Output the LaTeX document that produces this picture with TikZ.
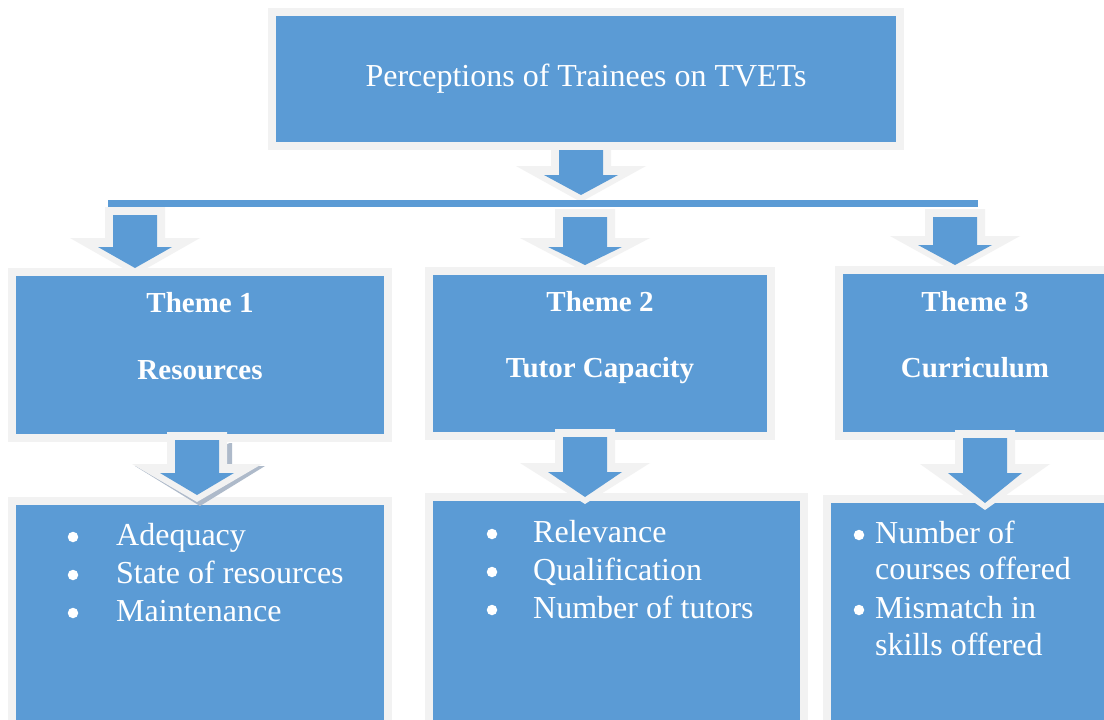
\documentclass[tikz,border=0pt]{standalone}
\usepackage{fontspec}
\setmainfont{Liberation Serif}
\definecolor{boxblue}{HTML}{5B9BD5}
\definecolor{boxgrey}{HTML}{F2F2F2}
\definecolor{shadowgrey}{HTML}{AEBACA}
\tikzset{
  panel/.style={draw=boxgrey, fill=boxblue, line width=8pt, rectangle, inner sep=0pt, text=white},
  titletext/.style={text=white, font=\fontsize{32}{38}\selectfont},
  themetext/.style={text=white, font=\bfseries\fontsize{29}{34}\selectfont, anchor=base, inner sep=0pt},
  itemtext/.style={text=white, font=\fontsize{32}{38}\selectfont, anchor=base west, inner sep=0pt},
  bul/.style={circle, fill=white, inner sep=0pt, minimum size=10.5pt},
}
% x, shaft top, head base, tip
\newcommand\tvarrow[4]{%
  \fill[boxgrey] (#1-30,#2-8) -- (#1+30,#2-8) -- (#1+30,#3-9) -- (#1+65,#3-9) -- (#1,#4+7) -- (#1-65,#3-9) -- (#1-30,#3-9) -- cycle;
  \fill[boxblue] (#1-22,#2) -- (#1+22,#2) -- (#1+22,#3) -- (#1+37,#3) -- (#1,#4) -- (#1-37,#3) -- (#1-22,#3) -- cycle;
}
\begin{document}
\begin{tikzpicture}[x=1pt,y=-1pt]
\useasboundingbox (0,0) rectangle (1104,720);
\fill[white] (0,0) rectangle (1104,720);
\begin{scope}
\clip (0,0) rectangle (1104,720);
% boxes
\node[panel, minimum width=628pt, minimum height=134pt, titletext] (title) at (586,79) {Perceptions of Trainees on TVETs};
\node[panel, minimum width=376pt, minimum height=166pt] (t1) at (200,355) {};
\node[panel, minimum width=342pt, minimum height=165pt] (t2) at (600,353.5) {};
\node[panel, minimum width=281pt, minimum height=166pt] (t3) at (979.5,353) {};
\node[panel, minimum width=376pt, minimum height=240pt] (b1) at (200,621) {};
\node[panel, minimum width=375pt, minimum height=244pt] (b2) at (616.5,619) {};
\node[panel, minimum width=293pt, minimum height=242pt] (b3) at (973.5,620) {};
% top arrow and bar
\tvarrow{581}{150}{175}{195}
\node[rectangle, fill=boxblue, inner sep=0pt, minimum width=870pt, minimum height=7pt] (bar) at (543,203.5) {};
% theme arrows
\tvarrow{135}{215}{247}{268}
\tvarrow{585}{217}{247}{265}
\tvarrow{955}{217}{245}{265}
% bottom arrows
\begin{scope}[shift={(3,2)}]
\fill[shadowgrey] (227,441) -- (229,441) -- (229,464) -- (262,464) -- (197,504) -- (132,464) -- (167,464) -- cycle;
\end{scope}
\tvarrow{197}{440}{473}{495}
\tvarrow{585}{437}{472}{497}
\tvarrow{985}{438}{473}{503}
% theme texts
\node[themetext] (th1) at (200,312) {Theme 1};
\node[themetext] (r1) at (200,379) {Resources};
\node[themetext] (th2) at (600,311) {Theme 2};
\node[themetext] (r2) at (600,377) {Tutor Capacity};
\node[themetext] (th3) at (975,311) {Theme 3};
\node[themetext] (r3) at (975,377) {Curriculum};
% box 1 items
\node[bul] (p1a) at (73,537) {};
\node[itemtext] (i1a) at (116,545) {Adequacy};
\node[bul] (p1b) at (73,575) {};
\node[itemtext] (i1b) at (116,583) {State of resources};
\node[bul] (p1c) at (73,613) {};
\node[itemtext] (i1c) at (116,621) {Maintenance};
% box 2 items
\node[bul] (p2a) at (492,534) {};
\node[itemtext] (i2a) at (533,542) {Relevance};
\node[bul] (p2b) at (492,572) {};
\node[itemtext] (i2b) at (533,580) {Qualification};
\node[bul] (p2c) at (492,610) {};
\node[itemtext] (i2c) at (533,618) {Number of tutors};
% box 3 items
\node[bul] (p3a) at (859,535) {};
\node[itemtext] (i3a) at (875,543) {Number of};
\node[itemtext] (i3b) at (875,579) {courses offered};
\node[bul] (p3c) at (859,610) {};
\node[itemtext] (i3c) at (875,618) {Mismatch in};
\node[itemtext] (i3d) at (875,655) {skills offered};
\end{scope}
\end{tikzpicture}
\end{document}
